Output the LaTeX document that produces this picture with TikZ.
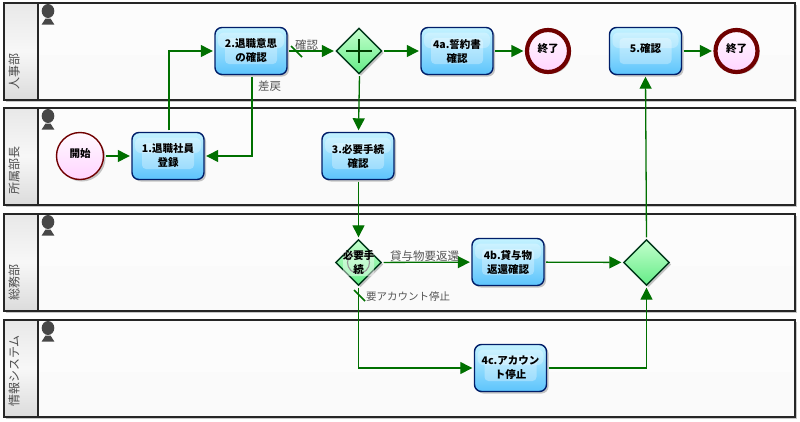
\documentclass[tikz,border=0pt]{standalone}
\usepackage{fontspec}
\setmainfont{Noto Sans CJK JP}
\usetikzlibrary{shapes.geometric,shadows,arrows.meta,calc}
\definecolor{flow}{RGB}{0,112,0}
\definecolor{taskedge}{RGB}{0,30,105}
\definecolor{taskhi}{RGB}{196,242,255}
\definecolor{tasklo}{RGB}{92,196,252}
\definecolor{gwedge}{RGB}{0,55,25}
\definecolor{gwhi}{RGB}{196,255,205}
\definecolor{gwlo}{RGB}{100,236,135}
\definecolor{evedge}{RGB}{112,0,0}
\definecolor{evhi}{RGB}{255,250,255}
\definecolor{evlo}{RGB}{255,212,255}
\definecolor{lbl}{RGB}{85,85,85}
\tikzset{
  softshadow/.style={drop shadow={shadow xshift=2pt,shadow yshift=-2pt,opacity=.22,fill=black}},
  lane/.style={draw=black!85,line width=1.6pt,fill=white!98!black,minimum width=791pt,minimum height=97pt,inner sep=0pt,softshadow,
    path picture={\fill[white,opacity=.5] (path picture bounding box.north west) rectangle ([yshift=-52pt]path picture bounding box.north east);}},
  lanecap/.style={draw=black!85,line width=1.2pt,top color=black!9,bottom color=black!14,middle color=white!97!black,minimum width=34pt,minimum height=97pt,inner sep=0pt},
  lanetext/.style={rotate=90,anchor=west,font=\fontsize{12}{12}\selectfont,text=black!70,inner sep=0pt},
  taskbox/.style={rectangle,rounded corners=7pt,draw=taskedge,line width=1.4pt,top color=taskhi,bottom color=tasklo,
    minimum width=72pt,minimum height=47pt,inner sep=0pt,align=center,softshadow,
    font=\fontsize{10.5}{14}\selectfont\bfseries,
    path picture={
      \fill[white,opacity=.28,rounded corners=6pt] ($(path picture bounding box.north west)+(3pt,-5pt)$) rectangle ($(path picture bounding box.east)+(-3pt,3pt)$);
      \fill[white,opacity=.3,rounded corners=4pt] ($(path picture bounding box.center)+(-26pt,13pt)$) rectangle ($(path picture bounding box.center)+(26pt,-13pt)$);
    }},
  gatebox/.style={diamond,aspect=1,draw=gwedge,line width=1.4pt,top color=gwhi,bottom color=gwlo,minimum size=46pt,inner sep=0pt,softshadow},
  startev/.style={circle,draw=evedge,line width=1.4pt,top color=evhi,bottom color=evlo,minimum size=47pt,inner sep=0pt,softshadow,font=\fontsize{10.5}{12}\selectfont\bfseries},
  endev/.style={circle,draw=evedge,line width=4.2pt,top color=evhi,bottom color=evlo,minimum size=42pt,inner sep=0pt,softshadow,font=\fontsize{10.5}{12}\selectfont\bfseries},
  flowline/.style={draw=flow,line width=1.3pt,shorten >=1.5pt,shorten <=1.5pt,-{Triangle[length=12pt,width=12pt]}},
  defaultmark/.style={draw=flow,line width=1.6pt},
  flowlabel/.style={font=\fontsize{11.5}{12}\selectfont,text=lbl,inner sep=0pt},
  headshape/.style={fill=black!72},
}
\newcommand{\personicon}[1]{%
  \fill[headshape] (48,#1+8) ellipse [x radius=6.3,y radius=7];
  \fill[headshape] (45.5,#1+15.5) -- (50.5,#1+15.5) -- (54.3,#1+21.5) -- (41.7,#1+21.5) -- cycle;
}
\newcommand{\uptext}[1]{\raisebox{6pt}{#1}}
\begin{document}
\begin{tikzpicture}[x=1pt,y=-1pt]
\useasboundingbox (0,0) rectangle (800,421);
\fill[white] (0,0) rectangle (800,421);
% lanes
\node[lane] (lane1) at (399.5,51.5) {};
\node[lane] (lane2) at (399.5,156.5) {};
\node[lane] (lane3) at (399.5,262.5) {};
\node[lane] (lane4) at (399.5,368.5) {};
\node[lanecap] (cap1) at (21,51.5) {};
\node[lanecap] (cap2) at (21,156.5) {};
\node[lanecap] (cap3) at (21,262.5) {};
\node[lanecap] (cap4) at (21,368.5) {};
\node[lanetext] (name1) at (14,90) {人事部};
\node[lanetext] (name2) at (14,195) {所属部長};
\node[lanetext] (name3) at (14,301) {総務部};
\node[lanetext] (name4) at (14,407) {情報システム};
\personicon{3}
\personicon{108}
\personicon{214}
\personicon{320}
% flow objects
\node[startev] (start) at (80,156) {\uptext{開始}};
\node[taskbox] (t1) at (168,156) {1.退職社員\\登録};
\node[taskbox] (t2) at (251,51) {2.退職意思\\の確認};
\node[gatebox] (g1) at (359,51) {};
\node[taskbox] (t3) at (358,156) {3.必要手続\\確認};
\node[taskbox] (t4a) at (457,51) {4a.誓約書\\確認};
\node[endev] (e1) at (548,51) {\uptext{終了}};
\node[taskbox] (t5) at (645.5,51) {\uptext{5.確認}};
\node[endev] (e2) at (736.5,51) {\uptext{終了}};
\node[gatebox] (g2) at (358.5,262.5) {};
\node[taskbox] (t4b) at (508,262) {4b.貸与物\\返還確認};
\node[taskbox] (t4c) at (510.5,368) {4c.アカウン\\ト停止};
\node[gatebox] (g3) at (646.5,262.5) {};
% gateway markers
\draw[line width=1.2pt,draw=black!60!green!60!black] (g1.center) +(-13,0) -- +(13,0) (g1.center) +(0,-12) -- +(0,12);
\draw[line width=1.1pt,draw=black!75] (g2.center) circle [radius=11];
\fill[white,opacity=.45,rounded corners=3pt] (343,251) rectangle (374,276);
\node[font=\fontsize{10.5}{14}\selectfont\bfseries,align=center,inner sep=0pt] (g2text) at (358.5,262.5) {必要手\\続};
% flows
\draw[flowline] (start) -- (t1);
\draw[flowline] ([xshift=1pt]t1.north) |- (t2.west);
\draw[flowline] ([xshift=1pt]t2.south) |- (t1.east);
\draw[flowline] (t2) -- (g1);
\draw[flowline] (g1) -- (t4a);
\draw[flowline] (t4a) -- (e1);
\draw[flowline] (t5) -- (e2);
\draw[flowline] ([xshift=0.5pt]g1.south) -- ([xshift=0.5pt]t3.north);
\draw[flowline] ([xshift=0.5pt]t3.south) -- (g2.north);
\draw[flowline] (g2) -- (t4b);
\draw[flowline] (g2.south) |- (t4c.west);
\draw[flowline] (t4b) -- (g3);
\draw[flowline] (t4c.east) -| (g3.south);
\draw[flowline] (g3.north) -- (t5.south);
% default-flow marks
\coordinate (m1a) at (291,46);
\coordinate (m1b) at (302,57);
\coordinate (m2a) at (354,290);
\coordinate (m2b) at (365,301);
\draw[defaultmark] (m1a) -- (m1b);
\draw[defaultmark] (m2a) -- (m2b);
% labels
\node[flowlabel,anchor=west] (l1) at (295,45.5) {確認};
\node[flowlabel,anchor=west] (l2) at (258,86) {差戻};
\node[flowlabel,anchor=west] (l3) at (390,256.5) {貸与物要返還};
\node[flowlabel,anchor=west,font=\fontsize{10.5}{12}\selectfont] (l4) at (366,297) {要アカウント停止};
\end{tikzpicture}
\end{document}
